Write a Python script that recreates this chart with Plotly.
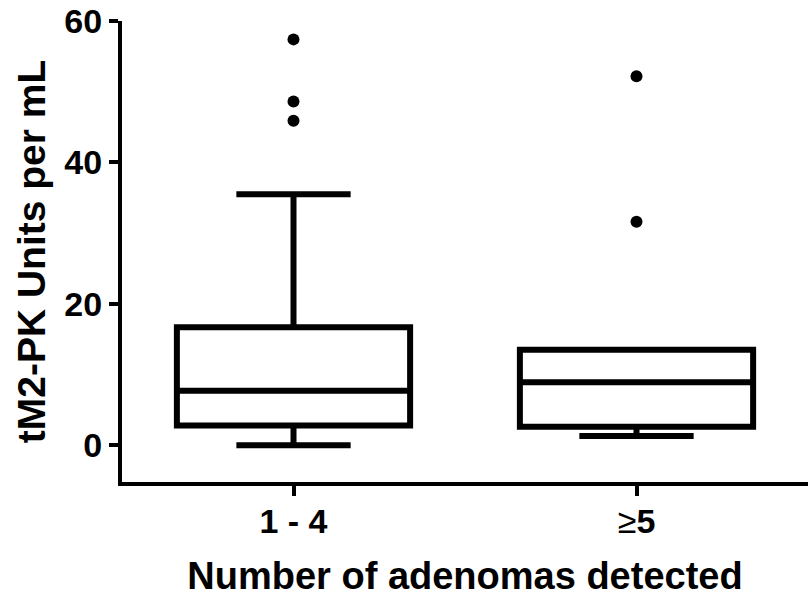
import plotly.graph_objects as go

categories = ["1 - 4", "≥5"]
tick_text = ["1 - 4", "<span style='font-weight:normal'>≥</span>5"]
q1 = [2.8, 2.6]
median = [7.7, 8.9]
q3 = [16.7, 13.5]
lower_whisker = [0.0, 1.3]
upper_whisker = [35.5, 13.5]
outliers = {
    "1 - 4": [57.4, 48.6, 45.9],
    "≥5": [52.2, 31.6],
}
y_ticks = [0, 20, 40, 60]

FONT = "Liberation Sans, Arial, sans-serif"

fig = go.Figure()
for i, cat in enumerate(categories):
    fig.add_trace(go.Box(
        x=[cat], q1=[q1[i]], median=[median[i]], q3=[q3[i]],
        lowerfence=[lower_whisker[i]], upperfence=[upper_whisker[i]],
        boxpoints=False, fillcolor="rgba(255,255,255,0)",
        line=dict(color="black", width=6),
        whiskerwidth=0.49, width=0.68, showlegend=False,
    ))
    ys = outliers[cat]
    fig.add_trace(go.Scatter(
        x=[cat] * len(ys), y=ys, mode="markers",
        marker=dict(color="black", size=12), showlegend=False,
    ))

fig.update_layout(
    width=808, height=597,
    margin=dict(l=122, r=0, t=21, b=115, autoexpand=False),
    plot_bgcolor="white", paper_bgcolor="white",
    font=dict(family=FONT, color="black"),
)
fig.update_xaxes(
    type="category", categoryorder="array", categoryarray=categories,
    tickvals=categories, ticktext=tick_text,
    range=[-0.5, 1.5], automargin=False,
    showline=True, linecolor="black", linewidth=4,
    ticks="outside", ticklen=10, tickwidth=4, tickcolor="black",
    ticklabelstandoff=-4,
    tickfont=dict(family=FONT, size=34, weight="bold", color="black"),
    showgrid=False, zeroline=False,
    title=dict(text="Number of adenomas detected",
               font=dict(family=FONT, size=38, weight="bold", color="black"),
               standoff=26),
)
fig.update_yaxes(
    range=[-5.2, 60], tickvals=y_ticks, automargin=False,
    ticklabeloverflow="allow",
    showline=True, linecolor="black", linewidth=4,
    ticks="outside", ticklen=9, tickwidth=4, tickcolor="black",
    tickfont=dict(family=FONT, size=34, weight="bold", color="black"),
    showgrid=False, zeroline=False,
    title=dict(text="tM2-PK Units per mL",
               font=dict(family=FONT, size=39, weight="bold", color="black"),
               standoff=8),
)

fig.write_html("out.html",
               config={"displayModeBar": False},
               post_script="document.body.style.margin='0';document.body.style.overflow='hidden';")
